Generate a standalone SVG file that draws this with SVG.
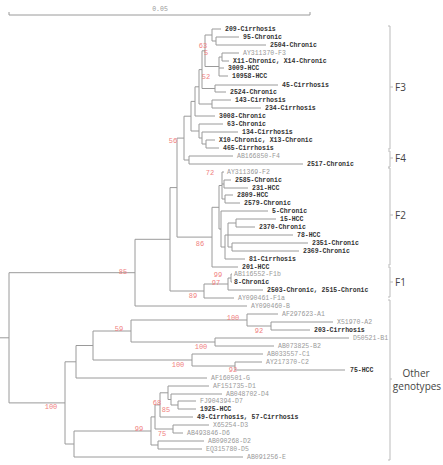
<svg xmlns="http://www.w3.org/2000/svg" width="443" height="465" viewBox="0 0 443 465">
<style>
.bg{fill:#fff}
.e{fill:none;stroke:#9a9a9a;stroke-width:1}
.s{font-family:"Liberation Mono",monospace;font-size:6.5px;font-weight:bold;fill:#333}
.r{font-family:"Liberation Mono",monospace;font-size:6.5px;fill:#999}
.b{font-family:"Liberation Mono",monospace;font-size:7px;fill:#f08080;text-anchor:middle}
.k{fill:none;stroke:#bbb;stroke-width:1}
.c{font-family:"Open Sans","Noto Sans",sans-serif;font-size:10px;fill:#444}
.o{font-family:"Open Sans","Noto Sans",sans-serif;font-size:10px;fill:#444;text-anchor:middle}
</style>
<rect class="bg" width="443" height="465"/>
<g id="scale-bar">
<path class="e" d="M9 12V15H310V12"/>
<text class="r" x="160" y="11" text-anchor="middle">0.05</text>
</g>
<g id="connectors">
<path class="e" d="M212 29H221M212 41H216M212 29V41M216 37H239M216 45H266M216 37V45M222 53V61M222 53H239M222 61H229M219 57V76M219 57H222M219 68H224M219 76H228M205 35V66.5M205 35H212M205 66.5H219M215 85V92M215 85H278M215 92H226M202 50.8V88.5M202 50.8H205M202 88.5H215M212 100V108M212 100H231M212 108H261M199 69.6V104M199 69.6H202M199 104H212M195 86.8V116M195 86.8H199M195 116H215M206 140V148M206 140H215M206 148H219M202 132V144M202 132H238M202 144H206M199 124V138M199 124H223M199 138H202M191 101.4V131M191 101.4H195M191 131H199M189 156V164M189 156H233M189 164H303M184 116.2V160M184 116.2H191M184 160H189"/>
<path class="e" d="M224 180V188M224 180H231M224 188H248M225 195V203M225 195H233M225 203H240M222 172V199M222 172H224M222 184H224M222 199H225M236 219V227M236 219H276M236 227H255M232 243V251M232 243H308M232 251H299M228 223V247M228 223H236M228 235H293M228 247H232M225 235V259M225 235H228M225 259H245M221 211V247M221 211H268M221 247H225M219 185.5V229M219 185.5H222M219 229H221M212 207.3V267M212 207.3H219M212 267H238M177 138.1V237.1M177 138.1H184M177 237.1H212"/>
<path class="e" d="M231 274V282M231 274H232M231 282H232M228 278V290M228 278H231M228 290H263M204 284V298M204 284H228M204 298H234M170 187.6V291M170 187.6H177M170 291H204M135 239.3V306M135 239.3H170M135 306H247"/>
<path class="e" d="M271 322V330M271 322H333M271 330H310M247 314V326M247 314H278M247 326H271M215 338V346M215 338H349M215 346H274M131 320V342M131 320H247M131 342H215M235 362V370M235 362H262M235 370H345M192 354V366M192 354H263M192 366H235M93 331V360M93 331H131M93 360H192M76 345.5V378M76 345.5H93M76 378H207"/>
<path class="e" d="M178 401V409M178 401H196M178 409H196M171 394V405M171 394H222M171 405H178M168 386V399.5M168 386H209M168 399.5H171M160 392.8V417M160 392.8H168M160 417H193M173 425V433M173 425H209M173 433H183M155 404.9V429M155 404.9H160M155 429H173M158 441V449M158 441H204M158 449H202M151 416.9V445M151 416.9H155M151 445H158M74 431V457M74 431H151M74 457H243M65 361.8V444M65 361.8H76M65 444H74M9 272.7V402.9M9 272.7H135M9 402.9H65M0 337.8H9"/>
</g>
<g id="bootstrap">
<text class="b" x="203" y="48">63</text>
<text class="b" x="206" y="55">5</text>
<text class="b" x="206" y="79">52</text>
<text class="b" x="173" y="143">56</text>
<text class="b" x="210" y="175">72</text>
<text class="b" x="200" y="246">86</text>
<text class="b" x="218" y="277">99</text>
<text class="b" x="216" y="285">97</text>
<text class="b" x="193" y="298">89</text>
<text class="b" x="123" y="274">85</text>
<text class="b" x="233" y="320">100</text>
<text class="b" x="259" y="333">92</text>
<text class="b" x="119" y="331">59</text>
<text class="b" x="201" y="349">100</text>
<text class="b" x="178" y="367">100</text>
<text class="b" x="233" y="372">92</text>
<text class="b" x="51" y="409">100</text>
<text class="b" x="139" y="431">99</text>
<text class="b" x="157" y="405">68</text>
<text class="b" x="166" y="412">85</text>
<text class="b" x="162" y="436">75</text>
</g>
<g id="n-209"><text class="s" x="225" y="31.2">209-Cirrhosis</text></g>
<g id="n-95"><text class="s" x="243" y="39.2">95-Chronic</text></g>
<g id="n-2504"><text class="s" x="270" y="47.2">2504-Chronic</text></g>
<g id="n-AY311370"><text class="r" x="243" y="55.2">AY311370-F3</text></g>
<g id="n-X11"><text class="s" x="233" y="63.2">X11-Chronic, X14-Chronic</text></g>
<g id="n-3009"><text class="s" x="228" y="70.2">3009-HCC</text></g>
<g id="n-10958"><text class="s" x="232" y="78.2">10958-HCC</text></g>
<g id="n-45"><text class="s" x="282" y="87.2">45-Cirrhosis</text></g>
<g id="n-2524"><text class="s" x="230" y="94.2">2524-Chronic</text></g>
<g id="n-143"><text class="s" x="235" y="102.2">143-Cirrhosis</text></g>
<g id="n-234"><text class="s" x="265" y="110.2">234-Cirrhosis</text></g>
<g id="n-3008"><text class="s" x="219" y="118.2">3008-Chronic</text></g>
<g id="n-63"><text class="s" x="227" y="126.2">63-Chronic</text></g>
<g id="n-134"><text class="s" x="242" y="134.2">134-Cirrhosis</text></g>
<g id="n-X10"><text class="s" x="219" y="142.2">X10-Chronic, X13-Chronic</text></g>
<g id="n-465"><text class="s" x="223" y="150.2">465-Cirrhosis</text></g>
<g id="n-AB166850"><text class="r" x="237" y="158.2">AB166850-F4</text></g>
<g id="n-2517"><text class="s" x="307" y="166.2">2517-Chronic</text></g>
<g id="n-AY311369"><text class="r" x="227" y="174.2">AY311369-F2</text></g>
<g id="n-2585"><text class="s" x="235" y="182.2">2585-Chronic</text></g>
<g id="n-231"><text class="s" x="252" y="190.2">231-HCC</text></g>
<g id="n-2809"><text class="s" x="237" y="197.2">2809-HCC</text></g>
<g id="n-2579"><text class="s" x="244" y="205.2">2579-Chronic</text></g>
<g id="n-5"><text class="s" x="272" y="213.2">5-Chronic</text></g>
<g id="n-15"><text class="s" x="280" y="221.2">15-HCC</text></g>
<g id="n-2370"><text class="s" x="259" y="229.2">2370-Chronic</text></g>
<g id="n-78"><text class="s" x="297" y="237.2">78-HCC</text></g>
<g id="n-2351"><text class="s" x="312" y="245.2">2351-Chronic</text></g>
<g id="n-2369"><text class="s" x="303" y="253.2">2369-Chronic</text></g>
<g id="n-81"><text class="s" x="249" y="261.2">81-Cirrhosis</text></g>
<g id="n-201"><text class="s" x="242" y="269.2">201-HCC</text></g>
<g id="n-AB116552"><text class="r" x="234" y="276.2">AB116552-F1b</text></g>
<g id="n-8"><text class="s" x="234" y="284.2">8-Chronic</text></g>
<g id="n-2503"><text class="s" x="267" y="292.2">2503-Chronic, 2515-Chronic</text></g>
<g id="n-AY090461"><text class="r" x="238" y="300.2">AY090461-F1a</text></g>
<g id="n-AY090460"><text class="r" x="251" y="308.2">AY090460-B</text></g>
<g id="n-AF297623"><text class="r" x="282" y="316.2">AF297623-A1</text></g>
<g id="n-X51970"><text class="r" x="337" y="324.2">X51970-A2</text></g>
<g id="n-203"><text class="s" x="314" y="332.2">203-Cirrhosis</text></g>
<g id="n-D50521"><text class="r" x="353" y="340.2">D50521-B1</text></g>
<g id="n-AB073825"><text class="r" x="278" y="348.2">AB073825-B2</text></g>
<g id="n-AB033557"><text class="r" x="267" y="356.2">AB033557-C1</text></g>
<g id="n-AY217370"><text class="r" x="266" y="364.2">AY217370-C2</text></g>
<g id="n-75"><text class="s" x="350" y="372.2">75-HCC</text></g>
<g id="n-AF160501"><text class="r" x="211" y="380.2">AF160501-G</text></g>
<g id="n-AF151735"><text class="r" x="213" y="388.2">AF151735-D1</text></g>
<g id="n-AB048702"><text class="r" x="226" y="396.2">AB048702-D4</text></g>
<g id="n-FJ904394"><text class="r" x="200" y="403.2">FJ904394-D7</text></g>
<g id="n-1925"><text class="s" x="200" y="411.2">1925-HCC</text></g>
<g id="n-49"><text class="s" x="197" y="419.2">49-Cirrhosis, 57-Cirrhosis</text></g>
<g id="n-X65254"><text class="r" x="213" y="427.2">X65254-D3</text></g>
<g id="n-AB493846"><text class="r" x="187" y="435.2">AB493846-D6</text></g>
<g id="n-AB090268"><text class="r" x="208" y="443.2">AB090268-D2</text></g>
<g id="n-EQ315780"><text class="r" x="206" y="451.2">EQ315780-D5</text></g>
<g id="n-AB091256"><text class="r" x="247" y="459.2">AB091256-E</text></g>
<g id="clade-F3"><path class="k" d="M388 26H390V149H388M390 87H393"/><text class="c" x="395" y="91">F3</text></g>
<g id="clade-F4"><path class="k" d="M388 151H390V167H388M390 158H393"/><text class="c" x="395" y="162">F4</text></g>
<g id="clade-F2"><path class="k" d="M388 168H390V265H388M390 215H393"/><text class="c" x="395" y="219">F2</text></g>
<g id="clade-F1"><path class="k" d="M388 267H390V297H388M390 282H393"/><text class="c" x="395" y="286">F1</text></g>
<g id="clade-other"><path class="k" d="M388 300H390V460H388M390 379H392"/><text class="o" x="416" y="377">Other</text><text class="o" x="417" y="390">genotypes</text></g>
</svg>
